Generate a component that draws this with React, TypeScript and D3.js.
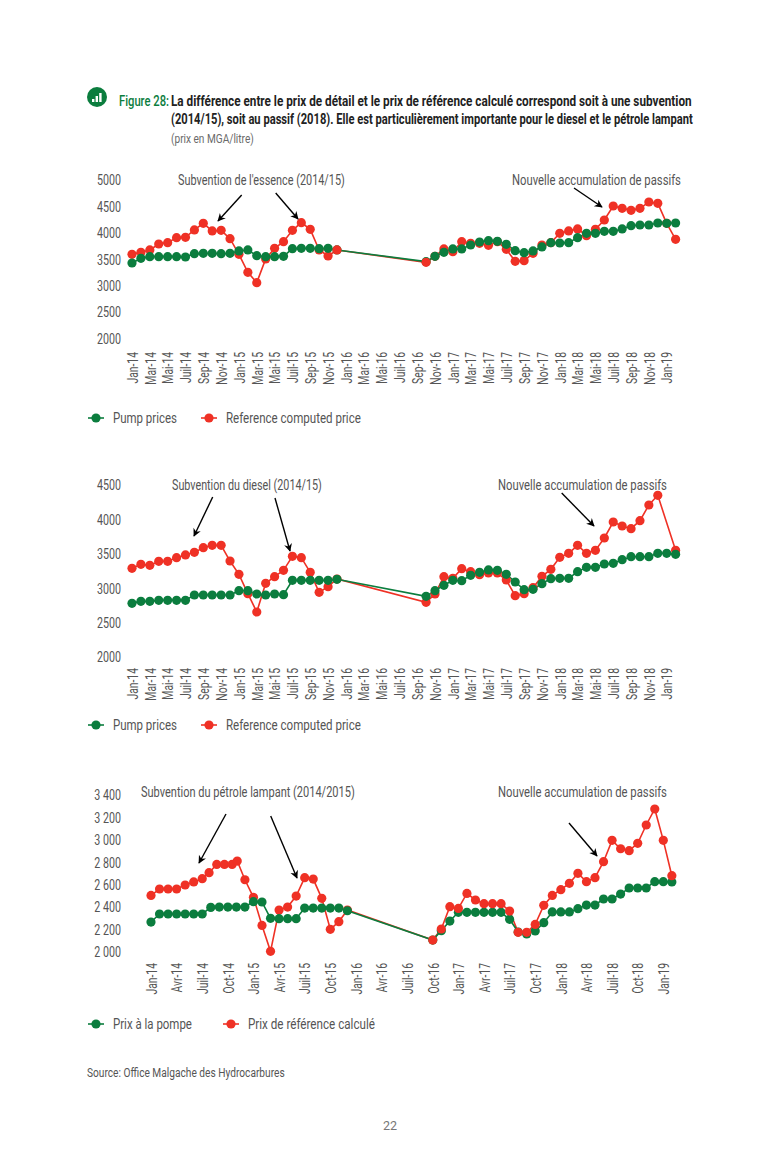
import { useEffect, useLayoutEffect, useRef } from "react";
import * as d3 from "d3";

const monthNames = ["Jan", "Fév", "Mar", "Avr", "Mai", "Juin", "Juil", "Aoû", "Sep", "Oct", "Nov", "Déc"];

// month index from Jan-14: Jan-14..Dec-15, then Oct-16..Feb-19 (nothing in between)
const obsMonths = [
  0, 1, 2, 3, 4, 5, 6, 7, 8, 9, 10, 11, 12, 13, 14, 15, 16, 17, 18, 19, 20, 21, 22, 23,
  33, 34, 35, 36, 37, 38, 39, 40, 41, 42, 43, 44, 45, 46, 47, 48, 49, 50, 51, 52, 53, 54, 55, 56, 57, 58, 59, 60, 61,
];
// the lamp oil reference series has one extra reading in late 2014
const lampRefMonths = [
  0, 1, 2, 3, 4, 5, 6, 6.8, 7.7, 8.6, 9.5, 10.1, 11, 12, 13, 14, 15, 16, 17, 18, 19, 20, 21, 22, 23,
  33, 34, 35, 36, 37, 38, 39, 40, 41, 42, 43, 44, 45, 46, 47, 48, 49, 50, 51, 52, 53, 54, 55, 56, 57, 58, 59, 60, 61,
];

const essenceRef = [
  3592, 3630, 3674, 3787, 3813, 3907, 3914, 4053, 4179, 4034, 4046, 3888, 3592, 3250, 3055, 3503, 3705, 3832, 4046, 4192, 4065, 3674, 3560, 3674,
  3440, 3554, 3693, 3642, 3832, 3800, 3800, 3762, 3832, 3686, 3459, 3472, 3611, 3768, 3813, 3989, 4034, 4072, 3945, 4065, 4242, 4507, 4463, 4425, 4463, 4583, 4558, 4179, 3876,
];
const essencePump = [
  3427, 3516, 3547, 3547, 3547, 3547, 3541, 3604, 3610, 3610, 3604, 3610, 3655, 3674, 3566, 3547, 3547, 3554, 3699, 3705, 3705, 3699, 3705, 3674,
  3453, 3554, 3629, 3693, 3693, 3768, 3825, 3851, 3838, 3781, 3661, 3623, 3655, 3731, 3813, 3806, 3813, 3907, 3989, 3989, 4027, 4027, 4072, 4135, 4147, 4147, 4185, 4179, 4185,
];
const dieselRef: (number | null)[] = [
  3289, 3347, 3332, 3391, 3391, 3444, 3483, 3521, 3589, 3623, 3623, 3395, 3202, 2921, 2654, 3071, 3168, 3260, 3463, 3444, 3231, 2940, 3022, 3134,
  2795, 2916, 3168, 3143, 3284, 3240, 3197, 3221, 3221, 3119, 2891, 2921, 3008, 3172, 3274, 3449, 3507, 3623, 3507, 3550, 3730, 3962, 3904, 3865, 3982, 4209, 4350, null, 3550,
];
const dieselPump = [
  2780, 2809, 2809, 2824, 2824, 2824, 2824, 2901, 2901, 2901, 2901, 2901, 2964, 2964, 2916, 2901, 2916, 2906, 3114, 3114, 3114, 3114, 3114, 3129,
  2882, 2964, 3042, 3114, 3109, 3187, 3231, 3265, 3260, 3202, 3090, 2979, 2984, 3066, 3139, 3143, 3143, 3240, 3303, 3303, 3352, 3361, 3415, 3458, 3458, 3458, 3507, 3507, 3492,
];
const lampRef = [
  2503, 2560, 2560, 2560, 2596, 2623, 2652, 2706, 2780, 2780, 2780, 2810, 2643, 2486, 2235, 2003, 2372, 2399, 2497, 2661, 2649, 2477, 2200, 2268, 2372,
  2104, 2203, 2402, 2387, 2521, 2462, 2429, 2429, 2429, 2363, 2173, 2173, 2244, 2414, 2503, 2554, 2611, 2700, 2626, 2661, 2804, 2995, 2920, 2903, 2968, 3132, 3275, 2995, 2679,
];
const lampPump = [
  2265, 2337, 2337, 2337, 2337, 2337, 2337, 2396, 2399, 2399, 2399, 2399, 2447, 2444, 2298, 2295, 2295, 2295, 2390, 2390, 2390, 2390, 2390, 2366,
  2104, 2188, 2274, 2352, 2352, 2352, 2352, 2352, 2352, 2289, 2176, 2158, 2185, 2259, 2355, 2355, 2355, 2384, 2417, 2417, 2471, 2471, 2515, 2569, 2569, 2569, 2626, 2626, 2623,
];

const essenceTicks = [2000, 2500, 3000, 3500, 4000, 4500, 5000];
const dieselTicks = [2000, 2500, 3000, 3500, 4000, 4500];
const lampTicks = [2000, 2200, 2400, 2600, 2800, 3000, 3200, 3400];

const GREEN = "#0b7d3e";
const RED = "#ef3125";
const TEXT = "#555555";
const FONT = "Roboto, sans-serif";
const TICK_SQUEEZE = 0.69;

const thousands = d3.formatLocale({ decimal: ",", thousands: " ", grouping: [3], currency: ["", ""] }).format(",");

type Series = { months: number[]; values: (number | null)[] };
type Note = { text: string; x: number; width: number; arrows: number[][] };

// no condensed font installed, so squeeze the text horizontally to the width it has in the original
function Fit({ x, y, width, children, ...rest }: any) {
  const ref = useRef<SVGTextElement>(null);
  useLayoutEffect(() => {
    const el = ref.current;
    if (!el) return;
    const natural = el.getComputedTextLength();
    el.setAttribute("transform", `translate(${x},${y}) scale(${width / natural},1)`);
  }, []);
  return (
    <text ref={ref} {...rest}>
      {children}
    </text>
  );
}

interface PanelProps {
  ref_: Series;
  pump: Series;
  redOnTop: number[];
  yTicks: number[];
  yRange: [number, number];
  yFormat: (v: number) => string;
  xRange: [number, number];
  xStep: number;
  xLabelTop: number;
  noteY: number;
  notes: Note[];
  legendY: number;
  legend: { pump: string; pumpW: number; ref: string; refX: number; refW: number };
}

function Panel(p: PanelProps) {
  const axisRef = useRef<SVGGElement>(null);
  const x = d3.scaleLinear().domain([0, 60]).range(p.xRange);
  const y = d3.scaleLinear().domain([p.yTicks[0], p.yTicks[p.yTicks.length - 1]]).range(p.yRange);

  useEffect(() => {
    const root = d3.select(axisRef.current);
    root.selectAll("*").remove();
    const yAxis = d3.axisLeft(y).tickValues(p.yTicks).tickSize(0).tickPadding(0).tickFormat((v) => p.yFormat(+v));
    const gy = root.append("g").attr("transform", "translate(121,0)").call(yAxis);
    gy.select(".domain").remove();
    gy.selectAll("text")
      .attr("font-family", FONT)
      .attr("font-size", 15.5)
      .attr("fill", TEXT)
      .attr("x", 0)
      .attr("transform", `scale(${TICK_SQUEEZE},1)`);

    const xAxis = d3
      .axisBottom(x)
      .tickValues(d3.range(0, 61, p.xStep))
      .tickSize(0)
      .tickFormat((v) => `${monthNames[+v % 12]}-${14 + Math.floor(+v / 12)}`);
    const gx = root.append("g").attr("transform", `translate(0,${p.xLabelTop})`).call(xAxis);
    gx.select(".domain").remove();
    gx.selectAll("text")
      .attr("font-family", FONT)
      .attr("font-size", 15)
      .attr("fill", TEXT)
      .attr("text-anchor", "end")
      .attr("transform", `rotate(-90) scale(${TICK_SQUEEZE},1)`)
      .attr("x", 0)
      .attr("y", 0)
      .attr("dy", "0.35em");
  }, []);

  const points = (s: Series) =>
    s.months.map((m, i) => ({ m, v: s.values[i] })).filter((d) => d.v !== null) as { m: number; v: number }[];
  const line = d3
    .line<{ m: number; v: number }>()
    .x((d) => x(d.m))
    .y((d) => y(d.v));

  const refPts = points(p.ref_);
  const pumpPts = points(p.pump);
  const dot = (d: { m: number; v: number }, color: string, key: string) => (
    <circle key={key} cx={x(d.m)} cy={y(d.v)} r={4.6} fill={color} />
  );

  return (
    <g>
      <path d={line(refPts) ?? ""} fill="none" stroke={RED} strokeWidth={1.6} />
      <path d={line(pumpPts) ?? ""} fill="none" stroke={GREEN} strokeWidth={1.6} />
      {refPts.filter((d) => !p.redOnTop.includes(d.m)).map((d, i) => dot(d, RED, `r${i}`))}
      {pumpPts.map((d, i) => dot(d, GREEN, `g${i}`))}
      {refPts.filter((d) => p.redOnTop.includes(d.m)).map((d, i) => dot(d, RED, `t${i}`))}
      <g ref={axisRef} />
      {p.notes.map((n) => (
        <g key={n.text}>
          <Fit x={n.x} y={p.noteY} width={n.width} dy="0.35em" fontSize={15.5} fill={TEXT}>
            {n.text}
          </Fit>
          {n.arrows.map((a, i) => (
            <line key={i} x1={a[0]} y1={a[1]} x2={a[2]} y2={a[3]} stroke="#000" strokeWidth={1.4} markerEnd="url(#head)" />
          ))}
        </g>
      ))}
      <line x1={88} x2={104} y1={p.legendY} y2={p.legendY} stroke={GREEN} strokeWidth={1.6} />
      <circle cx={96} cy={p.legendY} r={4.6} fill={GREEN} />
      <Fit x={113} y={p.legendY} width={p.legend.pumpW} dy="0.35em" fontSize={15.5} fill={TEXT}>
        {p.legend.pump}
      </Fit>
      <line x1={p.legend.refX - 8} x2={p.legend.refX + 8} y1={p.legendY} y2={p.legendY} stroke={RED} strokeWidth={1.6} />
      <circle cx={p.legend.refX} cy={p.legendY} r={4.6} fill={RED} />
      <Fit x={p.legend.refX + 17} y={p.legendY} width={p.legend.refW} dy="0.35em" fontSize={15.5} fill={TEXT}>
        {p.legend.ref}
      </Fit>
    </g>
  );
}

export default function App() {
  const enLegend = { pump: "Pump prices", pumpW: 64, ref: "Reference computed price", refX: 209, refW: 135 };
  const frLegend = { pump: "Prix à la pompe", pumpW: 79, ref: "Prix de référence calculé", refX: 231, refW: 127 };
  const bars = d3.scaleLinear().domain([0, 3]).range([0, 9]);
  return (
    <svg width={780} height={1170} style={{ position: "absolute", left: 0, top: 0, background: "#fff" }} fontFamily={FONT}>
      <defs>
        <marker id="head" viewBox="0 0 10 10" refX={9} refY={5} markerWidth={8} markerHeight={8} orient="auto" markerUnits="userSpaceOnUse" overflow="visible">
          <path d="M0,0 L10,5 L0,10 L3,5 Z" fill="#000" />
        </marker>
      </defs>

      <circle cx={97} cy={97} r={10} fill={GREEN} />
      {[1, 2, 3].map((h, i) => (
        <rect key={h} x={92 + i * 3.6} y={102 - bars(h)} width={2.4} height={bars(h)} fill="#fff" />
      ))}
      <Fit x={119} y={106} width={50} fontSize={15.5} fontWeight={500} fill={GREEN}>Figure 28:</Fit>
      <Fit x={171} y={106} width={521} fontSize={15.5} fontWeight={700} fill="#222">
        La différence entre le prix de détail et le prix de référence calculé correspond soit à une subvention
      </Fit>
      <Fit x={171} y={124} width={522} fontSize={15.5} fontWeight={700} fill="#222">
        (2014/15), soit au passif (2018). Elle est particulièrement importante pour le diesel et le pétrole lampant
      </Fit>
      <Fit x={171} y={143} width={83} fontSize={13} fill="#6a6a6a">(prix en MGA/litre)</Fit>

      <Panel
        ref_={{ months: obsMonths, values: essenceRef }}
        pump={{ months: obsMonths, values: essencePump }}
        redOnTop={[23, 33]}
        yTicks={essenceTicks}
        yRange={[338.3, 180]}
        yFormat={(v) => String(v)}
        xRange={[132, 666.7]}
        xStep={2}
        xLabelTop={352}
        noteY={180}
        notes={[
          { text: "Subvention de l'essence (2014/15)", x: 178, width: 167, arrows: [[241.7, 195, 218, 221], [275.7, 193, 298, 219]] },
          { text: "Nouvelle accumulation de passifs", x: 512, width: 169, arrows: [[574, 188, 602, 207]] },
        ]}
        legendY={418}
        legend={enLegend}
      />
      <Panel
        ref_={{ months: obsMonths, values: dieselRef }}
        pump={{ months: obsMonths, values: dieselPump }}
        redOnTop={[]}
        yTicks={dieselTicks}
        yRange={[657, 485]}
        yFormat={(v) => String(v)}
        xRange={[132, 666.7]}
        xStep={2}
        xLabelTop={668}
        noteY={485}
        notes={[
          { text: "Subvention du diesel (2014/15)", x: 172, width: 150, arrows: [[212.7, 497, 194, 536], [275, 498, 290, 551]] },
          { text: "Nouvelle accumulation de passifs", x: 498, width: 169, arrows: [[561.7, 493, 594, 526]] },
        ]}
        legendY={725}
        legend={enLegend}
      />
      <Panel
        ref_={{ months: lampRefMonths, values: lampRef }}
        pump={{ months: obsMonths, values: lampPump }}
        redOnTop={d3.range(33, 62)}
        yTicks={lampTicks}
        yRange={[951.7, 795]}
        yFormat={(v) => thousands(v)}
        xRange={[151, 663.3]}
        xStep={3}
        xLabelTop={963}
        noteY={792}
        notes={[
          { text: "Subvention du pétrole lampant (2014/2015)", x: 141, width: 214, arrows: [[226, 814, 199, 863], [270.7, 816, 297, 878]] },
          { text: "Nouvelle accumulation de passifs", x: 498, width: 169, arrows: [[569, 823, 597, 856]] },
        ]}
        legendY={1024}
        legend={frLegend}
      />

      <Fit x={87} y={1077} width={198} fontSize={13} fill={TEXT}>Source: Office Malgache des Hydrocarbures</Fit>
      <text x={390} y={1130} fontSize={12.5} fill="#777" textAnchor="middle">22</text>
    </svg>
  );
}
